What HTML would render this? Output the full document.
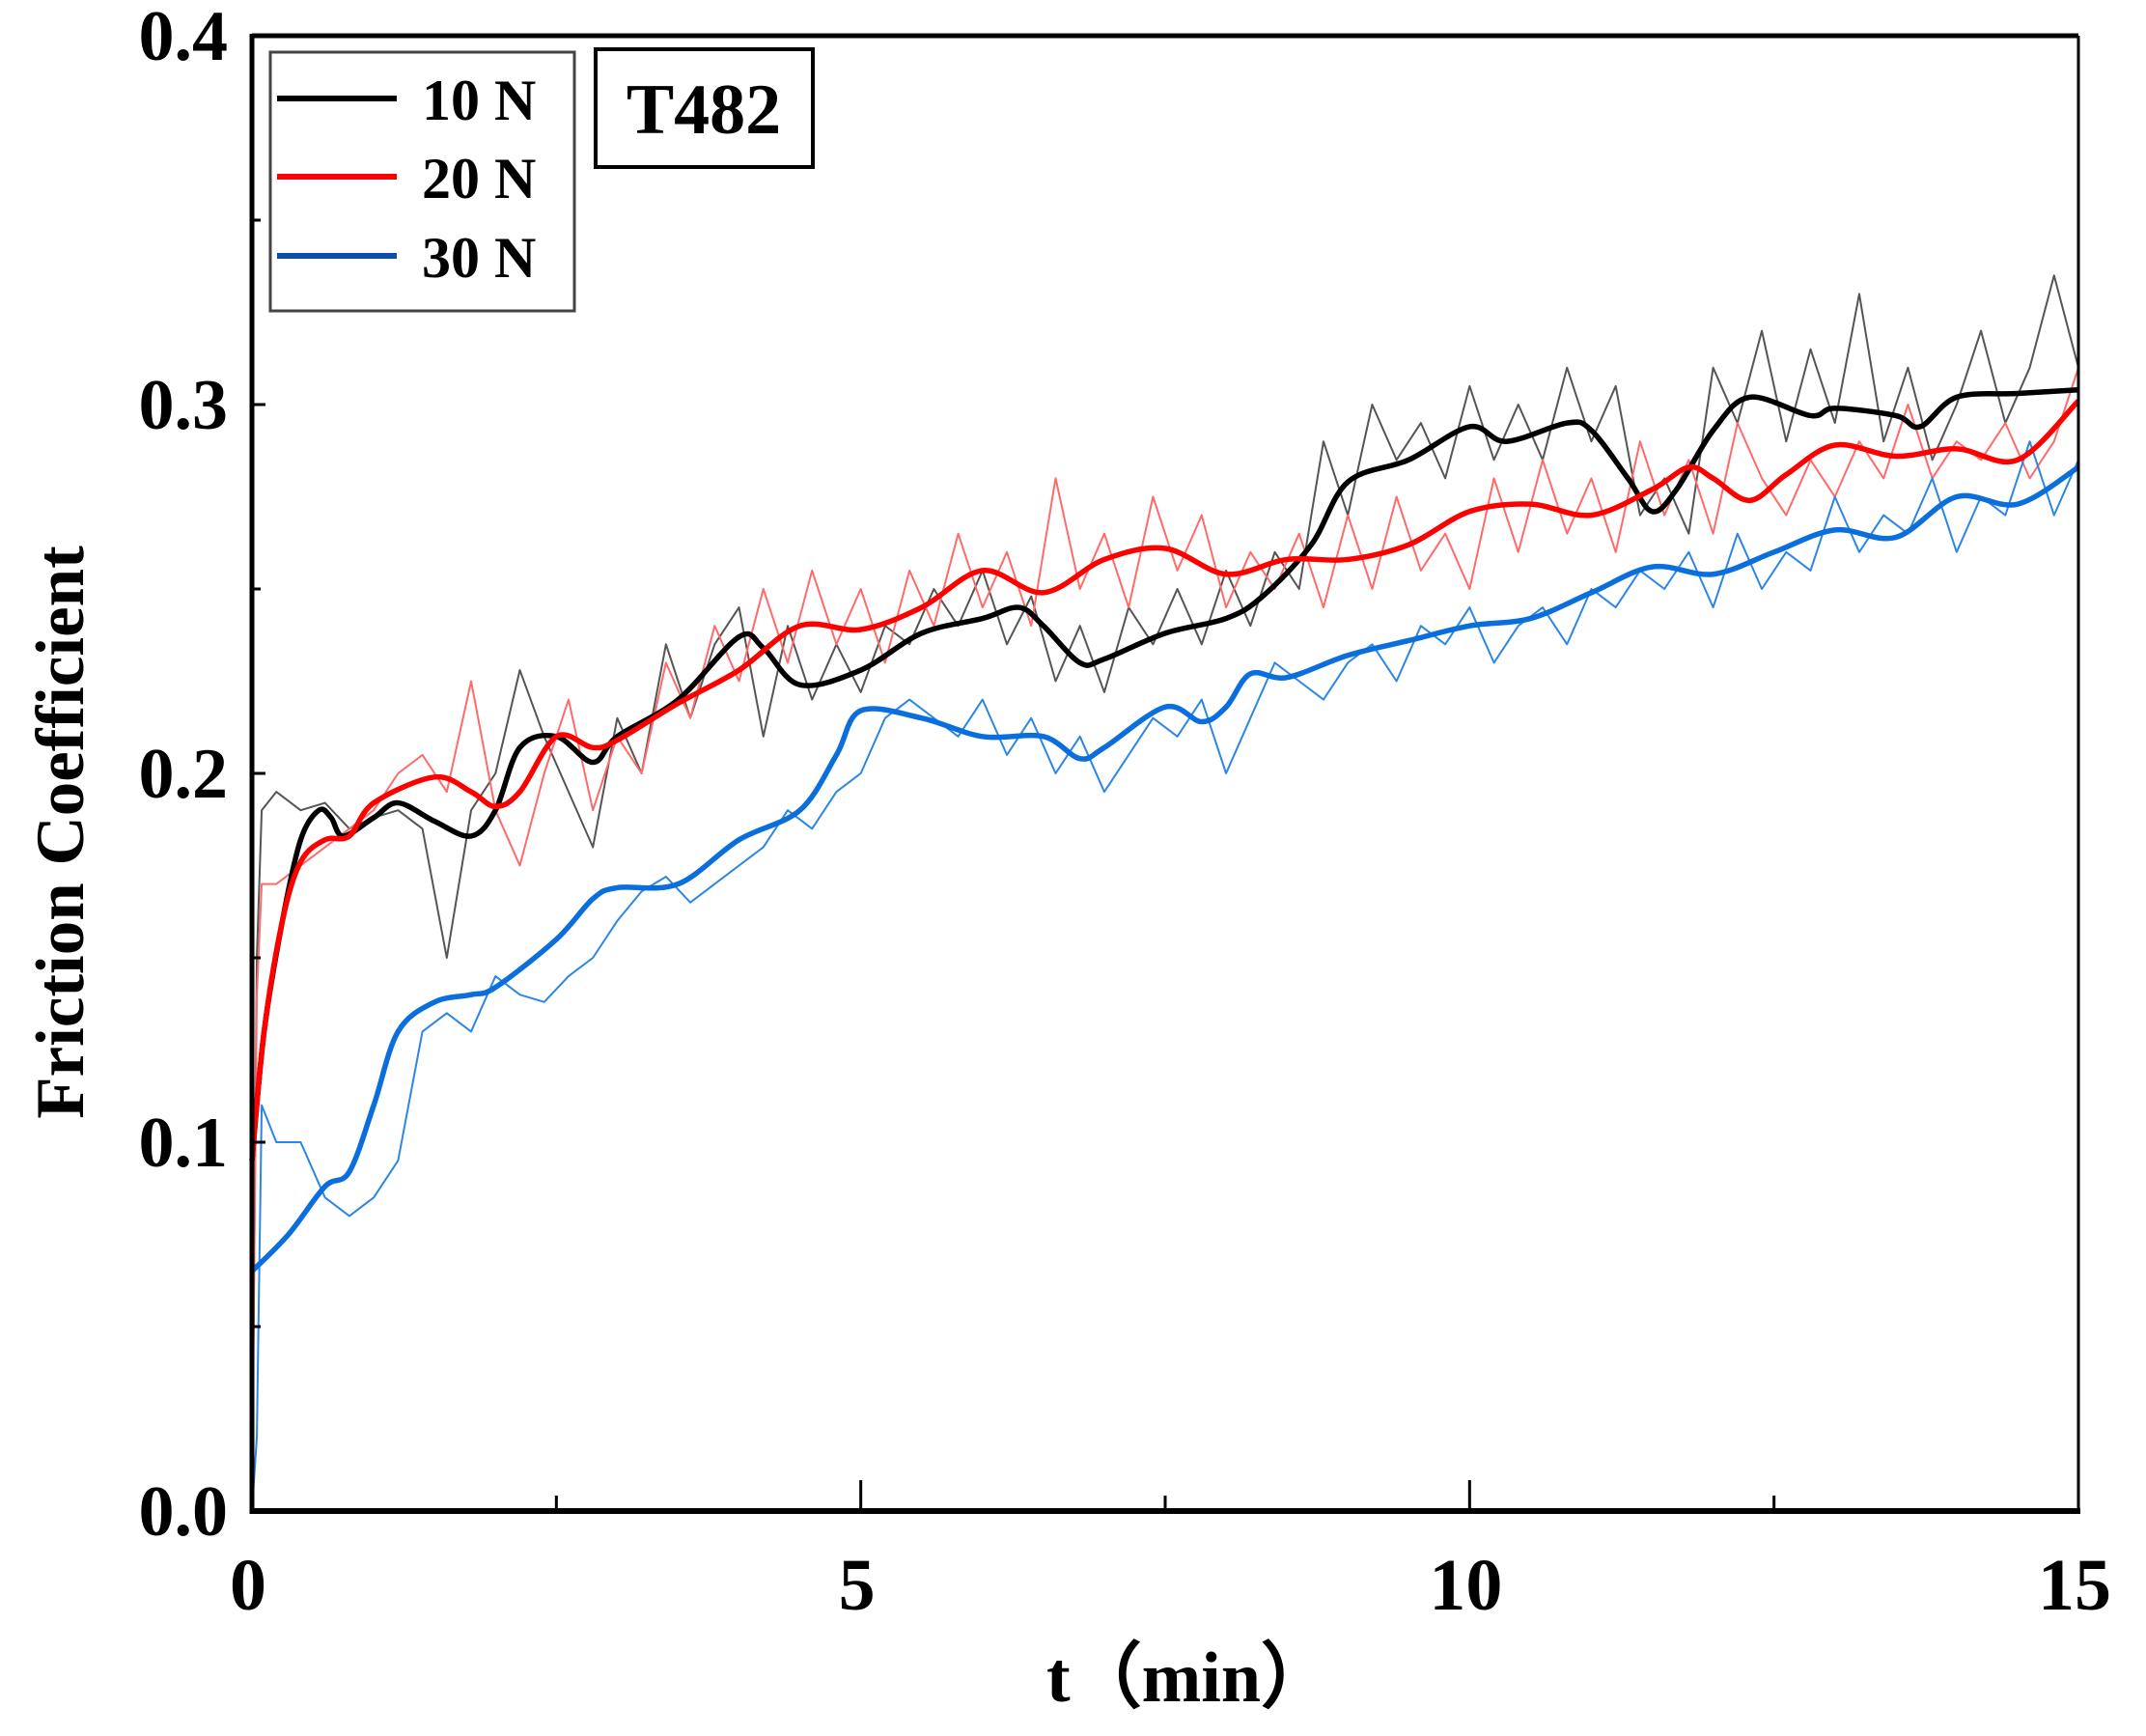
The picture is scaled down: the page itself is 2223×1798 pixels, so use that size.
<!DOCTYPE html>
<html><head><meta charset="utf-8"><style>
html,body{margin:0;padding:0;background:#fff;}
svg{display:block;font-family:"Liberation Serif",serif;font-weight:bold;}
</style></head><body>
<svg id="chart" width="2223" height="1798" viewBox="0 0 2223 1798">
<g id="series"></g>
<g id="axes"></g>
<rect x="280" y="54" width="315" height="268" fill="#fff" stroke="#444" stroke-width="3"/>
<g><line x1="287" y1="102" x2="411" y2="102" stroke="#000" stroke-width="6"/><text x="437" y="124" font-size="60">10 N</text></g>
<g><line x1="287" y1="183" x2="411" y2="183" stroke="#ff0000" stroke-width="6"/><text x="437" y="205" font-size="60">20 N</text></g>
<g><line x1="287" y1="265" x2="411" y2="265" stroke="#0a4ea8" stroke-width="6"/><text x="437" y="287" font-size="60">30 N</text></g>
<rect x="617" y="51" width="225" height="122" fill="#fff" stroke="#000" stroke-width="4"/>
<text x="729" y="138" font-size="74" text-anchor="middle">T482</text>
<text x="1232" y="1762" font-size="74" text-anchor="middle">t（min）</text>
<text transform="translate(86,862) rotate(-90)" font-size="71" text-anchor="middle">Friction Coefficient</text>
</svg>
<script>
const xTicks=[0,5,10,15];
const xTickLabels=["0","5","10","15"];
const yTicks=[0,0.1,0.2,0.3,0.4];
const yTickLabels=["0.0","0.1","0.2","0.3","0.4"];

const blackSmoothT=[0,0.1,0.25,0.4,0.55,0.65,0.75,1.0,1.2,1.5,1.8,2.0,2.2,2.5,2.8,3.0,3.5,4.0,4.2,4.5,5.0,5.5,6.0,6.3,6.5,6.8,7.0,7.5,8.0,8.3,8.7,9.0,9.5,10.0,10.3,10.8,11.0,11.3,11.5,11.7,12.0,12.3,12.8,13.0,13.5,13.7,14.0,14.5,15];
const blackSmooth=[0.095,0.13,0.16,0.182,0.19,0.188,0.183,0.188,0.192,0.187,0.183,0.19,0.207,0.21,0.203,0.21,0.22,0.237,0.234,0.224,0.228,0.238,0.242,0.245,0.24,0.23,0.231,0.238,0.242,0.248,0.262,0.279,0.285,0.294,0.29,0.295,0.293,0.28,0.271,0.277,0.293,0.302,0.297,0.299,0.297,0.294,0.302,0.303,0.304];
const redSmoothT=[0,0.1,0.25,0.4,0.6,0.8,1.0,1.5,1.8,2.0,2.2,2.5,2.8,3.0,3.5,4.0,4.5,5.0,5.5,6.0,6.5,7.0,7.5,8.0,8.5,9.0,9.5,10.0,10.5,11.0,11.5,11.8,12.0,12.3,12.6,13.0,13.5,14.0,14.5,15];
const redSmooth=[0.095,0.13,0.16,0.176,0.182,0.183,0.192,0.199,0.195,0.191,0.195,0.21,0.207,0.209,0.219,0.228,0.24,0.239,0.245,0.255,0.249,0.258,0.261,0.254,0.258,0.258,0.262,0.271,0.273,0.27,0.277,0.283,0.28,0.274,0.281,0.289,0.286,0.288,0.285,0.301];
const blueSmoothT=[0,0.3,0.6,0.8,1.0,1.2,1.5,1.8,2.0,2.5,2.8,3.0,3.5,4.0,4.5,4.8,5.0,5.5,6.0,6.5,6.8,7.0,7.5,7.8,8.0,8.2,8.5,9.0,9.5,10,10.5,11,11.5,12,12.5,13,13.5,14,14.5,15];
const blueSmooth=[0.065,0.075,0.088,0.092,0.11,0.13,0.138,0.14,0.142,0.155,0.166,0.169,0.17,0.182,0.19,0.205,0.217,0.215,0.21,0.21,0.204,0.207,0.218,0.214,0.218,0.227,0.226,0.232,0.236,0.24,0.242,0.249,0.256,0.254,0.26,0.266,0.264,0.275,0.273,0.283];

const blackRawStart=[0,0.15,0.19];
const blackRaw=[.195,.19,.192,.185,.188,.19,.185,.15,.19,.2,.228,.21,.195,.18,.215,.2,.235,.215,.235,.245,.21,.24,.22,.235,.222,.24,.235,.25,.24,.255,.235,.248,.225,.24,.222,.245,.235,.25,.235,.255,.24,.26,.25,.29,.27,.3,.285,.295,.28,.305,.285,.3,.285,.31,.29,.305,.27,.28,.265,.31,.295,.32,.29,.315,.295,.33,.29,.31,.285,.3,.32,.295,.31,.335,.31];
const redRawStart=[0,0.14,0.17];
const redRaw=[.17,.175,.18,.185,.19,.2,.205,.195,.225,.19,.175,.2,.22,.19,.21,.2,.23,.215,.24,.225,.25,.23,.255,.235,.25,.23,.255,.24,.265,.245,.26,.24,.28,.25,.265,.245,.275,.255,.27,.245,.26,.25,.265,.245,.27,.25,.275,.255,.265,.25,.28,.26,.285,.265,.28,.26,.29,.27,.285,.265,.295,.28,.27,.285,.275,.29,.28,.3,.28,.29,.285,.295,.28,.29,.31];
const blueRawStart=[0,0.02,0.11];
const blueRaw=[.1,.1,.085,.08,.085,.095,.13,.135,.13,.145,.14,.138,.145,.15,.16,.168,.172,.165,.17,.175,.18,.19,.185,.195,.2,.215,.22,.215,.21,.22,.205,.215,.2,.21,.195,.205,.215,.21,.22,.2,.215,.23,.225,.22,.23,.235,.225,.24,.235,.245,.23,.24,.245,.235,.25,.245,.255,.25,.26,.245,.265,.25,.26,.255,.275,.26,.27,.265,.28,.26,.275,.27,.29,.27,.285];

const X0=261,X1=2153,Y0=1565,Y1=37;
const xs=t=>X0+t*(X1-X0)/15;
const ys=v=>Y0-v*(Y0-Y1)/0.4;
const NS="http://www.w3.org/2000/svg";
const sg=document.getElementById('series'), ag=document.getElementById('axes');

function rawPts(start,vals){
  const p=[];const st=[0,0.04,0.08];
  start.forEach((v,i)=>p.push([xs(st[i]),ys(v)]));
  const n=vals.length;
  vals.forEach((v,i)=>p.push([xs(0.2+i*14.8/(n-1)),ys(v)]));
  return p;
}
function smoothPath(p){
  let d="M"+p[0][0]+","+p[0][1];
  for(let i=0;i<p.length-1;i++){
    const a=p[i-1]||p[i],b=p[i],c=p[i+1],e=p[i+2]||c;
    d+=" C"+(b[0]+(c[0]-a[0])/6)+","+(b[1]+(c[1]-a[1])/6)+" "+(c[0]-(e[0]-b[0])/6)+","+(c[1]-(e[1]-b[1])/6)+" "+c[0]+","+c[1];
  }
  return d;
}
function addPath(d,color,w,name){
  const el=document.createElementNS(NS,'path');
  el.setAttribute('d',d);el.setAttribute('fill','none');el.setAttribute('stroke',color);
  el.setAttribute('stroke-width',w);el.setAttribute('stroke-linejoin','round');
  
  
  sg.appendChild(el);
}
addPath("M"+rawPts(blackRawStart,blackRaw).join(" L"),"#555",2,'raw-10n');
addPath("M"+rawPts(redRawStart,redRaw).join(" L"),"#ff6a6a",2,'raw-20n');
addPath("M"+rawPts(blueRawStart,blueRaw).join(" L"),"#2b86e6",2,'raw-30n');
addPath(smoothPath(blackSmoothT.map((t,i)=>[xs(t),ys(blackSmooth[i])])),"#000",5.5,'smooth-10n');
addPath(smoothPath(blueSmoothT.map((t,i)=>[xs(t),ys(blueSmooth[i])])),"#0a6fdc",5.5,'smooth-30n');
addPath(smoothPath(redSmoothT.map((t,i)=>[xs(t),ys(redSmooth[i])])),"#ff0000",5.5,'smooth-20n');

function line(x1,y1,x2,y2,w,name){
  const l=document.createElementNS(NS,'line');
  l.setAttribute('x1',x1);l.setAttribute('y1',y1);l.setAttribute('x2',x2);l.setAttribute('y2',y2);
  l.setAttribute('stroke','#000');l.setAttribute('stroke-width',w);
  
  
  ag.appendChild(l);
}
function text(x,y,s,anchor,size,name){
  const t=document.createElementNS(NS,'text');
  t.setAttribute('x',x);t.setAttribute('y',y);t.setAttribute('text-anchor',anchor);t.setAttribute('font-size',size);
  t.textContent=s;
  
  
  ag.appendChild(t);
}
line(X0,Y1,X1,Y1,5,'top-axis');
line(X1,Y1,X1,Y0,3,'right-axis');
line(X0,Y1-2,X0,Y0+3,5,'y-axis');
line(X0-2,Y0,X1+2,Y0,6,'x-axis');
xTicks.forEach((t,i)=>{
  line(xs(t),Y0,xs(t),Y0-32,3,'x-tick');
  text(xs(t)-4,1667,xTickLabels[i],'middle',76,'x-tick-label');
  if(i<xTicks.length-1){line(xs(t+2.5),Y0,xs(t+2.5),Y0-16,3,'x-minor-tick');}
});
yTicks.forEach((v,i)=>{
  line(X0,ys(v),X0+14,ys(v),3,'y-tick');
  text(236,ys(v)+25,yTickLabels[i],'end',74,'y-tick-label');
  if(i<yTicks.length-1){line(X0,ys(v+0.05),X0+9,ys(v+0.05),3,'y-minor-tick');}
});
</script>
</body></html>
